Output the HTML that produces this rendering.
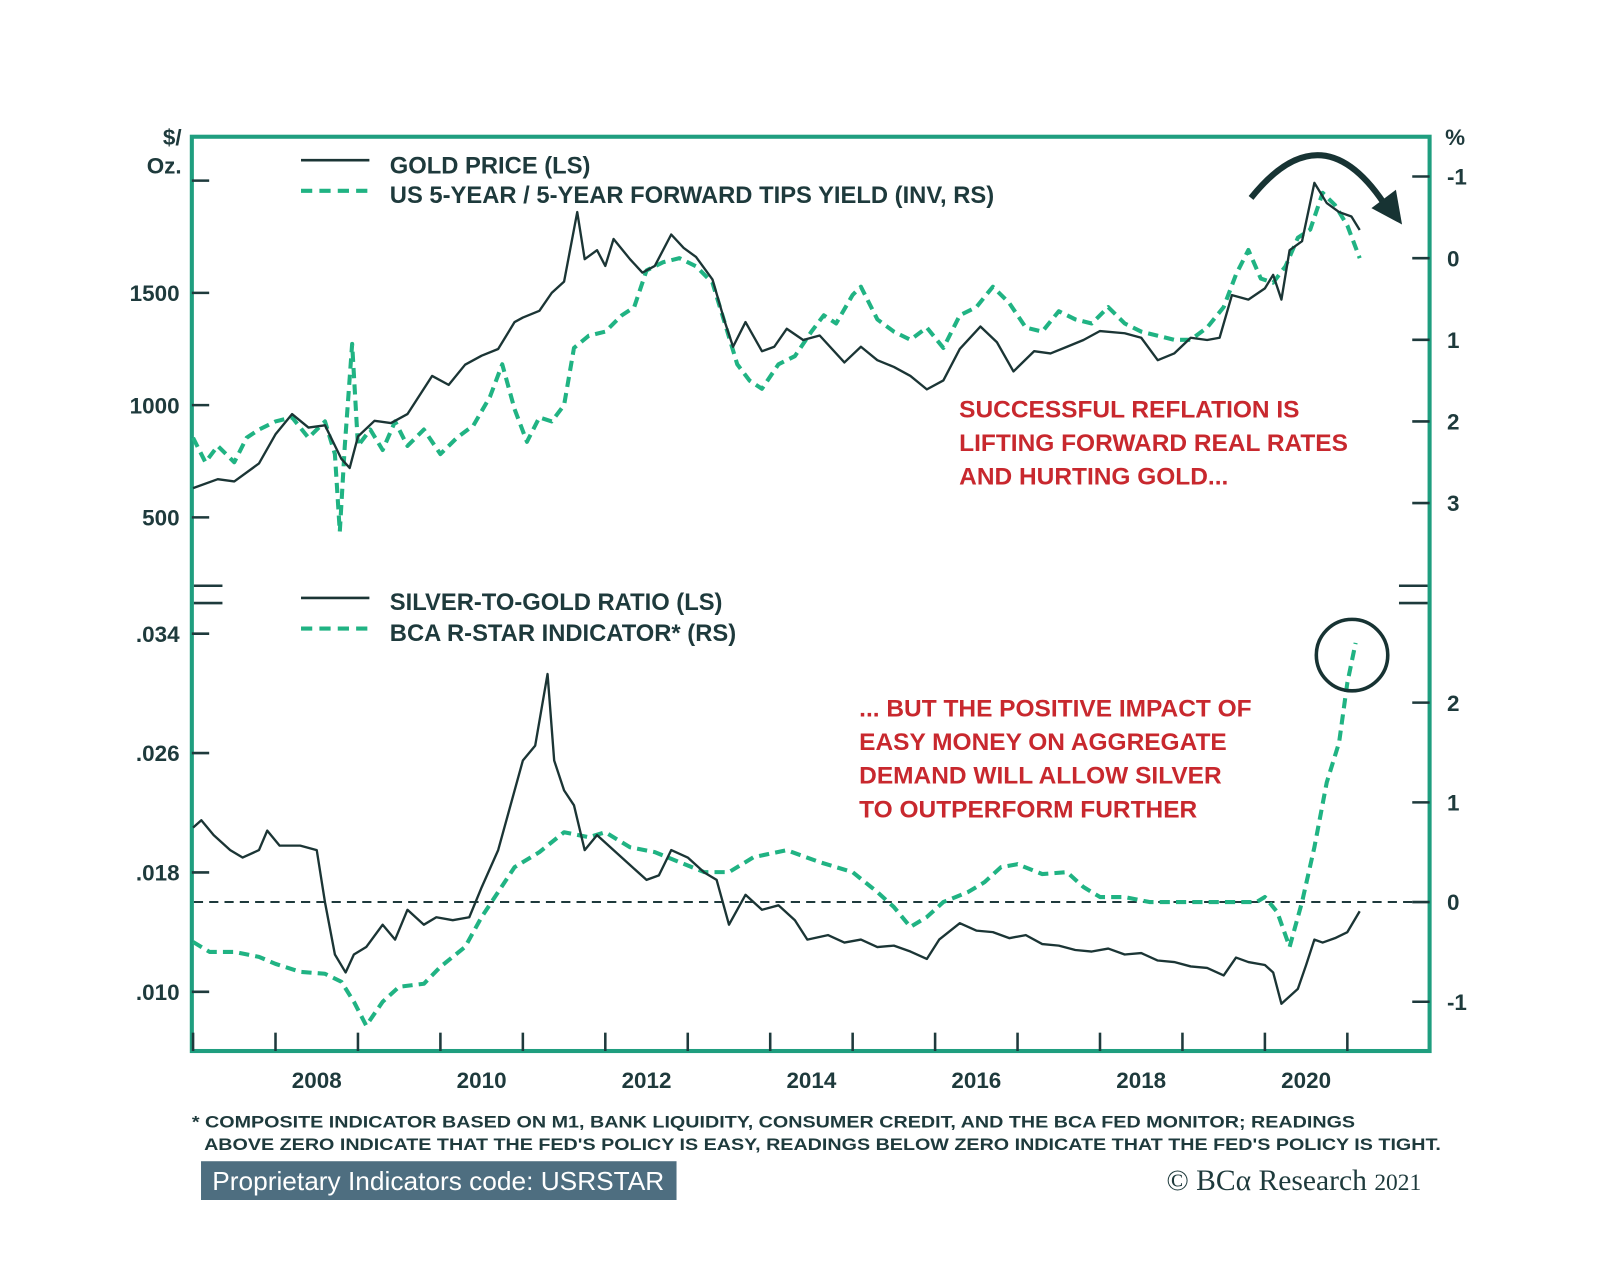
<!DOCTYPE html>
<html><head><meta charset="utf-8"><style>
html,body{margin:0;padding:0;background:#fff;}
svg{display:block;font-family:"Liberation Sans",Arial,sans-serif;}
</style></head><body>
<svg id="chart" width="1600" height="1265" viewBox="0 0 1568 1239.7">
<rect x="188" y="134" width="1213" height="896" fill="none" stroke="#1f9e7f" stroke-width="4"/>
<g id="axes"></g>
<g id="series"></g>
<g font-weight="bold" fill="#1e3a3c" font-size="23.3">
 <line x1="295" y1="157" x2="362" y2="157" stroke="#1b3535" stroke-width="2.5"/>
 <text x="382" y="170">GOLD PRICE (LS)</text>
 <line x1="295" y1="187" x2="362" y2="187" stroke="#20b383" stroke-width="4" stroke-dasharray="11,7"/>
 <text x="382" y="199">US 5-YEAR / 5-YEAR FORWARD TIPS YIELD (INV, RS)</text>
 <line x1="295" y1="586" x2="362" y2="586" stroke="#1b3535" stroke-width="2.5"/>
 <text x="382" y="598">SILVER-TO-GOLD RATIO (LS)</text>
 <line x1="295" y1="616" x2="362" y2="616" stroke="#20b383" stroke-width="4" stroke-dasharray="11,7"/>
 <text x="382" y="628">BCA R-STAR INDICATOR* (RS)</text>
</g>
<g font-weight="bold" fill="#c8282e" font-size="24">
 <text x="940" y="409">SUCCESSFUL REFLATION IS</text>
 <text x="940" y="442">LIFTING FORWARD REAL RATES</text>
 <text x="940" y="475">AND HURTING GOLD...</text>
 <text x="842" y="702">... BUT THE POSITIVE IMPACT OF</text>
 <text x="842" y="735">EASY MONEY ON AGGREGATE</text>
 <text x="842" y="768">DEMAND WILL ALLOW SILVER</text>
 <text x="842" y="801">TO OUTPERFORM FURTHER</text>
</g>
<circle cx="1325" cy="642" r="35" fill="none" stroke="#173333" stroke-width="3.5"/>
<path d="M1226,194 Q1297,105 1360,205" fill="none" stroke="#173333" stroke-width="6"/>
<polygon points="1344,204 1374,220 1368,186" fill="#173333"/>
<g font-weight="bold" fill="#1e3a3c" font-size="16.5">
 <text x="188" y="1105" textLength="1140" lengthAdjust="spacingAndGlyphs">* COMPOSITE INDICATOR BASED ON M1, BANK LIQUIDITY, CONSUMER CREDIT, AND THE BCA FED MONITOR; READINGS</text>
 <text x="200" y="1127" textLength="1212" lengthAdjust="spacingAndGlyphs">ABOVE ZERO INDICATE THAT THE FED'S POLICY IS EASY, READINGS BELOW ZERO INDICATE THAT THE FED'S POLICY IS TIGHT.</text>
</g>
<rect x="197" y="1138" width="466" height="38" fill="#4e6e80"/>
<text x="208" y="1166" fill="#fff" font-size="25.5" textLength="443" lengthAdjust="spacingAndGlyphs">Proprietary Indicators code: USRSTAR</text>
<text x="1143" y="1166" fill="#1e3a3c" font-size="29" font-family="Liberation Serif,serif">© BCα Research <tspan font-size="23">2021</tspan></text>
</svg>
<script>
const goldT=[2007.0,2007.3,2007.5,2007.8,2008.0,2008.2,2008.4,2008.6,2008.8,2008.9,2009.0,2009.2,2009.4,2009.6,2009.9,2010.1,2010.3,2010.5,2010.7,2010.9,2011.0,2011.2,2011.35,2011.5,2011.66,2011.75,2011.9,2012.0,2012.1,2012.3,2012.45,2012.6,2012.8,2012.95,2013.1,2013.3,2013.45,2013.55,2013.7,2013.9,2014.05,2014.2,2014.4,2014.6,2014.9,2015.1,2015.3,2015.5,2015.7,2015.9,2016.1,2016.3,2016.55,2016.75,2016.95,2017.2,2017.4,2017.6,2017.8,2018.0,2018.3,2018.5,2018.7,2018.9,2019.1,2019.3,2019.45,2019.6,2019.8,2020.0,2020.1,2020.2,2020.3,2020.45,2020.6,2020.75,2020.9,2021.05,2021.15];
const goldV=[630,670,660,740,870,960,900,910,760,720,860,930,920,960,1130,1090,1180,1220,1250,1370,1390,1420,1500,1550,1860,1650,1690,1620,1740,1650,1590,1620,1760,1700,1660,1560,1370,1260,1370,1240,1260,1340,1290,1310,1190,1260,1200,1170,1130,1070,1110,1250,1350,1280,1150,1240,1230,1260,1290,1330,1320,1300,1200,1230,1300,1290,1300,1490,1470,1520,1580,1470,1690,1730,1990,1900,1860,1840,1780];
const tipsT=[2007.0,2007.15,2007.3,2007.5,2007.65,2007.8,2008.0,2008.2,2008.4,2008.6,2008.72,2008.78,2008.84,2008.93,2009.0,2009.15,2009.3,2009.45,2009.6,2009.8,2010.0,2010.2,2010.4,2010.6,2010.75,2010.9,2011.05,2011.2,2011.35,2011.5,2011.62,2011.8,2012.0,2012.2,2012.35,2012.5,2012.7,2012.9,2013.1,2013.3,2013.45,2013.6,2013.75,2013.9,2014.1,2014.3,2014.5,2014.65,2014.8,2015.0,2015.1,2015.3,2015.5,2015.7,2015.9,2016.1,2016.3,2016.5,2016.7,2016.9,2017.1,2017.3,2017.5,2017.7,2017.9,2018.1,2018.3,2018.5,2018.7,2018.9,2019.1,2019.3,2019.5,2019.65,2019.8,2019.95,2020.1,2020.25,2020.4,2020.55,2020.7,2020.85,2021.0,2021.15];
const tipsV=[2.2,2.5,2.3,2.5,2.2,2.1,2.0,1.95,2.2,2.0,2.4,3.35,2.3,1.05,2.3,2.1,2.35,2.0,2.3,2.1,2.4,2.2,2.05,1.7,1.3,1.85,2.25,1.95,2.0,1.8,1.1,0.95,0.9,0.7,0.6,0.15,0.05,0.0,0.1,0.3,0.8,1.3,1.5,1.6,1.3,1.2,0.9,0.7,0.8,0.45,0.35,0.75,0.9,1.0,0.85,1.1,0.7,0.6,0.35,0.55,0.85,0.9,0.65,0.75,0.8,0.6,0.8,0.9,0.95,1.0,1.0,0.85,0.6,0.2,-0.1,0.25,0.3,0.1,-0.25,-0.35,-0.8,-0.65,-0.4,0.0];
const ratioT=[2007.0,2007.1,2007.25,2007.45,2007.6,2007.8,2007.9,2008.05,2008.3,2008.5,2008.6,2008.72,2008.85,2008.95,2009.1,2009.3,2009.45,2009.6,2009.8,2009.95,2010.15,2010.35,2010.5,2010.7,2010.85,2011.0,2011.15,2011.3,2011.38,2011.5,2011.62,2011.75,2011.9,2012.1,2012.3,2012.5,2012.65,2012.8,2013.0,2013.2,2013.35,2013.5,2013.7,2013.9,2014.1,2014.3,2014.45,2014.7,2014.9,2015.1,2015.3,2015.5,2015.7,2015.9,2016.05,2016.3,2016.5,2016.7,2016.9,2017.1,2017.3,2017.5,2017.7,2017.9,2018.1,2018.3,2018.5,2018.7,2018.9,2019.1,2019.3,2019.5,2019.65,2019.8,2020.0,2020.1,2020.2,2020.3,2020.4,2020.5,2020.6,2020.7,2020.85,2021.0,2021.15];
const ratioV=[0.021,0.0215,0.0205,0.0195,0.019,0.0195,0.0208,0.0198,0.0198,0.0195,0.016,0.0125,0.0113,0.0125,0.013,0.0145,0.0135,0.0155,0.0145,0.015,0.0148,0.0150,0.017,0.0195,0.0225,0.0255,0.0265,0.0313,0.0255,0.0235,0.0225,0.0195,0.0205,0.0195,0.0185,0.0175,0.0178,0.0195,0.019,0.018,0.0175,0.0145,0.0165,0.0155,0.0158,0.0148,0.0135,0.0138,0.0133,0.0135,0.0130,0.0131,0.0127,0.0122,0.0135,0.0146,0.0141,0.0140,0.0136,0.0138,0.0132,0.0131,0.0128,0.0127,0.0129,0.0125,0.0126,0.0121,0.0120,0.0117,0.0116,0.0111,0.0123,0.0120,0.0118,0.0113,0.0092,0.0097,0.0102,0.0118,0.0135,0.0133,0.0136,0.0140,0.0154];
const rstarT=[2007.0,2007.2,2007.5,2007.8,2008.0,2008.3,2008.6,2008.8,2008.95,2009.1,2009.3,2009.5,2009.8,2010.0,2010.3,2010.5,2010.7,2010.9,2011.2,2011.5,2011.8,2012.0,2012.3,2012.6,2012.9,2013.2,2013.5,2013.8,2014.2,2014.6,2015.0,2015.3,2015.5,2015.7,2015.9,2016.1,2016.4,2016.6,2016.8,2017.0,2017.3,2017.6,2017.8,2018.0,2018.3,2018.6,2018.9,2019.2,2019.6,2019.9,2020.0,2020.15,2020.3,2020.45,2020.6,2020.75,2020.9,2021.0,2021.1];
const rstarV=[-0.4,-0.5,-0.5,-0.55,-0.62,-0.7,-0.72,-0.8,-1.0,-1.24,-1.0,-0.85,-0.82,-0.65,-0.45,-0.15,0.1,0.35,0.5,0.7,0.65,0.7,0.55,0.5,0.4,0.3,0.3,0.45,0.52,0.4,0.3,0.1,-0.05,-0.25,-0.15,0.0,0.1,0.2,0.35,0.38,0.28,0.3,0.15,0.05,0.05,0.0,0.0,0.0,0.0,0.0,0.05,-0.1,-0.45,0.0,0.55,1.2,1.6,2.2,2.6];
const yearLabels=["2008","2010","2012","2014","2016","2018","2020"];
const goldTicks=[500,1000,1500,2000];const goldTickLabels=["500","1000","1500",""];
const tipsTicks=[-1,0,1,2,3];
const ratioTicks=[0.010,0.018,0.026,0.034];const ratioTickLabels=[".010",".018",".026",".034"];
const rstarTicks=[-1,0,1,2];

const NS="http://www.w3.org/2000/svg";
const X=t=>270+(t-2008)*80.8;
const yGold=v=>507-(v-500)*0.22;
const yTips=v=>253+v*80;
const yRatio=v=>972-(v-0.010)*14625;
const yRstar=v=>884-v*97.7;
const axes=document.getElementById('axes'),series=document.getElementById('series');
function mk(tag,attrs,parent){const e=document.createElementNS(NS,tag);for(const k in attrs)e.setAttribute(k,attrs[k]);parent.appendChild(e);return e;}
function line(x1,y1,x2,y2,name){const e=mk('line',{x1,y1,x2,y2,stroke:'#1e3a3c','stroke-width':2.5},axes);

return e;}
function label(x,y,s,anchor,name){const e=mk('text',{x,y,'text-anchor':anchor,'font-size':22,'font-weight':'bold',fill:'#1e3a3c'},axes);e.textContent=s;

}
goldTicks.forEach((v,i)=>{const y=yGold(v);line(188,y,205,y,'left-tick-gold');if(goldTickLabels[i])label(176,y+8,goldTickLabels[i],'end','left-tick-label-gold');});
label(178,142,'$/','end','left-unit-1');label(178,170,'Oz.','end','left-unit-2');
label(1426,142,'%','middle','right-unit');
tipsTicks.forEach(v=>{const y=yTips(v);line(1384,y,1401,y,'right-tick-tips');label(1418,y+8,String(v),'start','right-tick-label-tips');});
ratioTicks.forEach((v,i)=>{const y=yRatio(v);line(188,y,205,y,'left-tick-ratio');label(176,y+8,ratioTickLabels[i],'end','left-tick-label-ratio');});
rstarTicks.forEach(v=>{const y=yRstar(v);line(1384,y,1401,y,'right-tick-rstar');label(1418,y+8,String(v),'start','right-tick-label-rstar');});
[574,591].forEach(y=>{line(190,y,218,y,'axis-break-left');line(1371,y,1399,y,'axis-break-right');});
for(let yr=2007;yr<=2021;yr++){line(X(yr),1012,X(yr),1030,'x-tick');}
yearLabels.forEach(s=>label(X(+s+0.5),1066,s,'middle','x-tick-label'));
const zero=mk('line',{x1:190,y1:yRstar(0),x2:1399,y2:yRstar(0),stroke:'#1e3a3c','stroke-width':2,'stroke-dasharray':'9,6'},axes);


function path(T,V,fx,fy,dashed,name){let d='';T.forEach((t,i)=>{d+=(i?'L':'M')+fx(t).toFixed(1)+','+fy(V[i]).toFixed(1);});
const p=mk('path',{d,fill:'none',stroke:dashed?'#20b383':'#1b3535','stroke-width':dashed?4:2.3,'stroke-linejoin':'round'},series);
if(dashed)p.setAttribute('stroke-dasharray','10,6');

}
path(tipsT,tipsV,X,yTips,true,'tips-yield-line');
path(goldT,goldV,X,yGold,false,'gold-price-line');
path(rstarT,rstarV,X,yRstar,true,'rstar-line');
path(ratioT,ratioV,X,yRatio,false,'silver-gold-ratio-line');
</script>
</body></html>
